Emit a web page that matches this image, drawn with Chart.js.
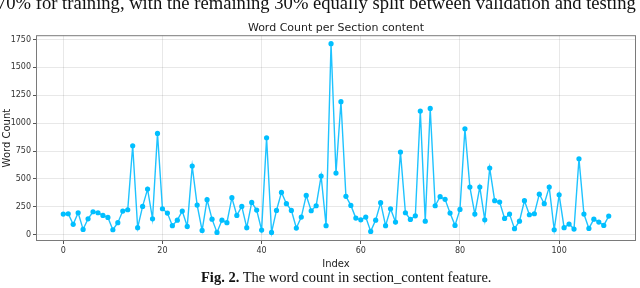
<!DOCTYPE html>
<html>
<head>
<meta charset="utf-8">
<script src="https://cdn.jsdelivr.net/npm/chart.js@4/dist/chart.umd.min.js"></script>
<style>
  body { margin: 0; background: #fff; }
  .wrap { position: relative; width: 640px; height: 288px; overflow: hidden; background: #fff; }
  #chart { position: absolute; left: 0; top: 0; }
  .top-text {
    position: absolute; left: -3px; top: -8px; white-space: nowrap;
    font-family: 'Liberation Serif', serif; font-size: 18.6px; color: #111;
  }
  .caption {
    position: absolute; left: 201px; top: 269px; white-space: nowrap;
    font-family: 'Liberation Serif', serif; font-size: 14.5px; color: #111;
  }
</style>
</head>
<body>
<div class="wrap">
  <canvas id="chart" width="640" height="288"></canvas>
  <div class="top-text">70% for training, with the remaining 30% equally split between validation and testing</div>
  <div class="caption"><b>Fig. 2.</b> The word count in section_content feature.</div>
</div>
<script>
// word count per row of the section_content column
const wordCounts = [
  185, 188, 93, 197, 48, 143, 206, 197, 173, 155,
  45, 108, 212, 224, 797, 63, 254, 409, 143, 908,
  233, 194, 81, 131, 212, 75, 615, 266, 39, 314,
  140, 21, 131, 108, 332, 173, 254, 63, 290, 221,
  42, 869, 21, 218, 379, 278, 218, 60, 158, 352,
  215, 260, 526, 81, 1712, 553, 1192, 344, 263, 149,
  134, 158, 30, 131, 287, 81, 233, 114, 741, 197,
  137, 170, 1108, 122, 1132, 260, 341, 317, 194, 84,
  227, 950, 427, 185, 427, 134, 597, 305, 293, 146,
  185, 54, 122, 305, 179, 188, 364, 278, 427, 45,
  358, 63, 96, 51, 681, 185, 57, 140, 114, 84,
  167
];
const xTicks = [0, 20, 40, 60, 80, 100];
const yTicks = [0, 250, 500, 750, 1000, 1250, 1500, 1750];

const points = wordCounts.map((v, i) => ({ x: i, y: v }));

// matplotlib style full box around the axes
const boxPlugin = {
  id: 'box',
  afterDraw(chart) {
    const { ctx, chartArea: a } = chart;
    ctx.save();
    ctx.strokeStyle = '#7a7a7a';
    ctx.lineWidth = 1;
    ctx.strokeRect(a.left + 0.5, a.top + 0.5, a.right - a.left - 1, a.bottom - a.top - 1);
    ctx.restore();
  }
};

const tickFont = { family: 'DejaVu Sans', size: 8 };

new Chart(document.getElementById('chart').getContext('2d'), {
  type: 'line',
  data: {
    datasets: [{
      data: points,
      borderColor: '#1ec3ff',
      borderWidth: 1.4,
      pointRadius: 2.6,
      pointBackgroundColor: '#00bfff',
      pointBorderColor: '#00bfff',
      pointBorderWidth: 0,
      tension: 0
    }]
  },
  options: {
    responsive: false,
    animation: false,
    layout: { padding: { top: 0, right: 3, bottom: 0, left: 0 } },
    plugins: {
      legend: { display: false },
      tooltip: { enabled: false },
      title: {
        display: true,
        text: 'Word Count per Section content',
        fullSize: false,
        color: '#222',
        font: { family: 'DejaVu Sans', size: 11, weight: 'normal' },
        padding: { top: 21.5, bottom: 0.5 }
      }
    },
    scales: {
      x: {
        type: 'linear',
        min: -5.5,
        max: 115.5,
        afterBuildTicks: (axis) => { axis.ticks = xTicks.map(v => ({ value: v })); },
        afterFit: (s) => { s.height = 47; },
        grid: { color: 'rgba(0,0,0,0.09)', tickColor: '#555', tickLength: 3 },
        border: { display: false },
        ticks: { color: '#333', font: tickFont, padding: 2, maxRotation: 0, callback: (v) => String(v) },
        title: {
          display: true, text: 'Index', color: '#222',
          font: { family: 'DejaVu Sans', size: 10 },
          padding: { top: 0, bottom: 18 }
        }
      },
      y: {
        min: -56,
        max: 1788,
        afterBuildTicks: (axis) => { axis.ticks = yTicks.map(v => ({ value: v })); },
        afterFit: (s) => { s.width = 36; },
        grid: { color: 'rgba(0,0,0,0.09)', tickColor: '#555', tickLength: 3 },
        border: { display: false },
        ticks: { color: '#333', font: tickFont, padding: 2, callback: (v) => String(v) },
        title: {
          display: true, text: 'Word Count', color: '#222',
          font: { family: 'DejaVu Sans', size: 10 },
          padding: { top: 1, bottom: 0 }
        }
      }
    }
  },
  plugins: [boxPlugin]
});
</script>
</body>
</html>
